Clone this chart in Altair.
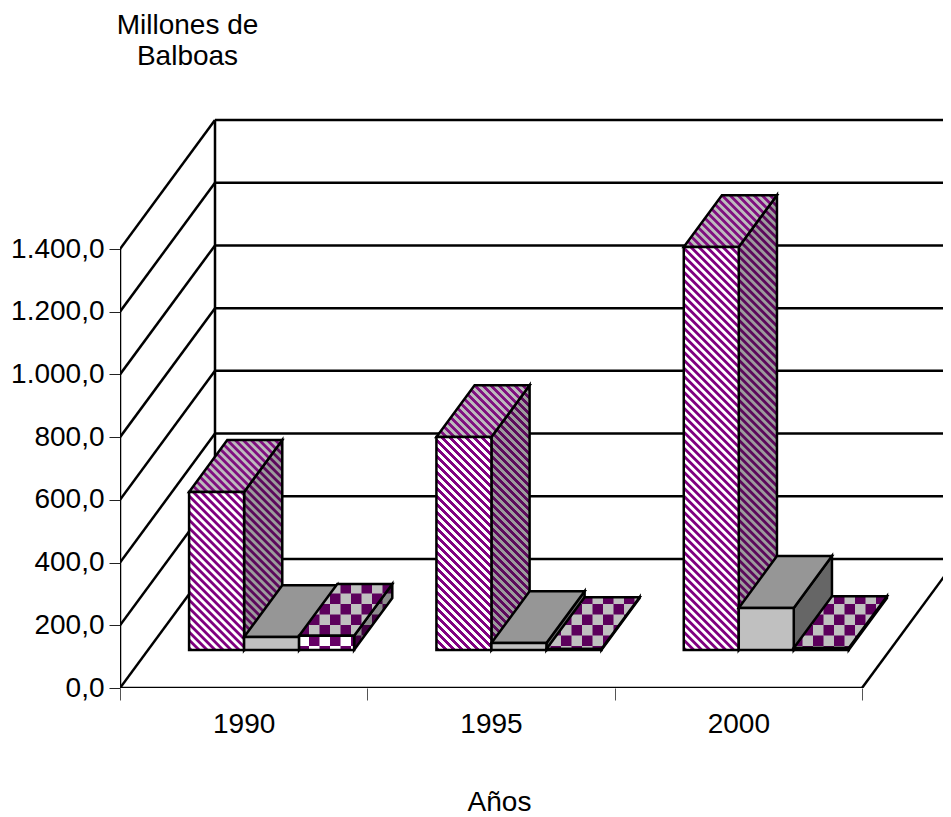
import altair as alt
import pandas as pd

# ---- chart values
YEARS = ["1990", "1995", "2000"]
SERIES_A = [504, 679, 1285]
SERIES_B = [41, 22, 134]
SERIES_C = [45, 3, 6]
Y_TICKS = [0, 200, 400, 600, 800, 1000, 1200, 1400]
FONT = "Liberation Sans"
FS = 28
LW = 2.5

# ---- projection of the 3-D box onto the two linear scales
W, H = 823, 572
XS = 742 / 3           # px per category
YS = 439 / 1400        # px per value unit
DX, DY = 95 / XS, 129 / YS   # full depth of the floor in scale units
D0, D1 = 0.295, 0.697  # front / back of the bars in depth
BAR_X0, BAR_W = 0.166, 0.2224

x_scale = alt.Scale(domain=[0, W / XS], nice=False, zero=False)
y_scale = alt.Scale(domain=[0, H / YS], nice=False, zero=False)


def stripes(w, h, c1, c2, period=8.0, ramp=1.0):
    """diagonal hatch as a repeating soft-edged linear gradient"""
    total = w + h
    n = int(total / period) + 1
    stops = []
    for i in range(n):
        p0 = i * period
        for pos, col in ((p0 + ramp / 2, c1), (p0 + period / 2 - ramp / 2, c1),
                         (p0 + period / 2 + ramp / 2, c2), (p0 + period - ramp / 2, c2)):
            if pos / total <= 1:
                stops.append({"offset": pos / total, "color": col})
    k = total / (w * w + h * h)
    return {"gradient": "linear", "x1": 0, "y1": 1, "x2": k * w, "y2": 1 - k * h, "stops": stops}


def spans(poly, cell=0):
    ys = sorted({round(p[1], 5) for p in poly})
    rows = []
    for y in ys:
        xs = []
        for (xa, ya), (xb, yb) in zip(poly, poly[1:] + poly[:1]):
            lo, hi = min(ya, yb), max(ya, yb)
            if lo - 1e-4 <= y <= hi + 1e-4:
                if abs(yb - ya) < 1e-6:
                    xs += [xa, xb]
                else:
                    xs.append(xa + (y - ya) / (yb - ya) * (xb - xa))
        rows.append({"y": y, "x": min(xs), "x2": max(xs), "cell": cell})
    return rows


def poly_layer(poly, fill, stroke="black", sw=LW):
    df = pd.DataFrame(spans(poly))
    return alt.Chart(df).mark_area(orient="horizontal", fill=fill, stroke=stroke, strokeWidth=sw,
                                   strokeJoin="miter", clip=True).encode(
        y=alt.Y("y:Q", scale=y_scale, axis=None),
        x=alt.X("x:Q", scale=x_scale, axis=None),
        x2="x2:Q")


def clip_rect(poly, x0, x1, y0, y1):
    def clip(pts, inside, cross):
        out = []
        for a, b in zip(pts, pts[1:] + pts[:1]):
            if inside(a):
                out.append(a)
                if not inside(b):
                    out.append(cross(a, b))
            elif inside(b):
                out.append(cross(a, b))
        return out

    def at_x(v):
        return lambda a, b: (v, a[1] + (v - a[0]) / (b[0] - a[0]) * (b[1] - a[1]))

    def at_y(v):
        return lambda a, b: (a[0] + (v - a[1]) / (b[1] - a[1]) * (b[0] - a[0]), v)

    pts = poly
    for ins, cr in ((lambda p: p[0] >= x0, at_x(x0)), (lambda p: p[0] <= x1, at_x(x1)),
                    (lambda p: p[1] >= y0, at_y(y0)), (lambda p: p[1] <= y1, at_y(y1))):
        if not pts:
            return []
        pts = clip(pts, ins, cr)
    return pts


def checker_layers(poly, c_base, c_dark, size=10.5):
    layers = [alt.Chart(pd.DataFrame(spans(poly))).mark_area(orient="horizontal", fill=c_base).encode(
        y=alt.Y("y:Q", scale=y_scale, axis=None),
        x=alt.X("x:Q", scale=x_scale, axis=None), x2="x2:Q")]
    sx, sy = size / XS, size / YS
    xs_, ys_ = [p[0] for p in poly], [p[1] for p in poly]
    rows, cid = [], 0
    for i in range(int(min(xs_) / sx) - 1, int(max(xs_) / sx) + 2):
        for j in range(int(min(ys_) / sy) - 1, int(max(ys_) / sy) + 2):
            if (i + j) % 2:
                continue
            c = clip_rect(poly, i * sx, (i + 1) * sx, j * sy, (j + 1) * sy)
            if len(c) >= 3 and max(p[1] for p in c) - min(p[1] for p in c) > 1e-6:
                rows += spans(c, cid)
                cid += 1
    if rows:
        layers.append(alt.Chart(pd.DataFrame(rows)).mark_area(orient="horizontal", fill=c_dark).encode(
            y=alt.Y("y:Q", scale=y_scale, axis=None),
            x=alt.X("x:Q", scale=x_scale, axis=None), x2="x2:Q", detail="cell:N"))
    layers.append(poly_layer(poly, "transparent"))
    return layers


def faces(c, s, v):
    xl = c + BAR_X0 + s * BAR_W
    xr = xl + BAR_W
    a0, a1 = D0 * DX, D1 * DX
    b0, b1 = D0 * DY, D1 * DY
    front = [(xl + a0, b0), (xr + a0, b0), (xr + a0, v + b0), (xl + a0, v + b0)]
    top = [(xl + a0, v + b0), (xr + a0, v + b0), (xr + a1, v + b1), (xl + a1, v + b1)]
    side = [(xr + a0, b0), (xr + a1, b1), (xr + a1, v + b1), (xr + a0, v + b0)]
    return front, top, side


# ---- frame: walls, floor, grid
frame_rows = []
for v in Y_TICKS:
    frame_rows.append({"x": 0, "x2": DX, "y": v, "y2": v + DY})
    frame_rows.append({"x": DX, "x2": 3 + DX, "y": v + DY, "y2": v + DY})
top_back = Y_TICKS[-1]
frame_rows.append({"x": 0, "x2": 0, "y": 0, "y2": top_back})
frame_rows.append({"x": DX, "x2": DX, "y": DY, "y2": top_back + DY})
frame_rows.append({"x": 0, "x2": 3, "y": 0, "y2": 0})
frame_rows.append({"x": 3, "x2": 3 + DX, "y": 0, "y2": DY})

label_expr = "replace(replace(replace(format(datum.value,',.1f'),',','_'),'.',','),'_','.')"
year_expr = "".join(f"datum.value=={i + .5}?'{y}':" for i, y in enumerate(YEARS)) + "''"

frame = alt.Chart(pd.DataFrame(frame_rows)).mark_rule(color="black", strokeWidth=LW, clip=True).encode(
    x=alt.X("x:Q", scale=x_scale, axis=alt.Axis(
        values=[0, .5, 1, 1.5, 2, 2.5, 3], grid=False, domain=False,
        tickSize=12, tickColor="#555555", tickWidth=1,
        tickOpacity={"condition": {"test": "datum.value % 1 != 0", "value": 0}, "value": 1},
        labelExpr=year_expr, labelFont=FONT, labelFontSize=FS, labelColor="black",
        labelPadding=10, labelFlush=False, labelOverlap=False, labelBound=False,
        title="Años", titleFont=FONT, titleFontSize=FS, titleFontWeight="normal", titleColor="black",
        titleX=379, titleY=122, titleAlign="center", titleBaseline="alphabetic")),
    x2="x2:Q",
    y=alt.Y("y:Q", scale=y_scale, axis=alt.Axis(
        values=Y_TICKS, grid=False, domain=False,
        tickSize=11, tickColor="#222222", tickWidth=1,
        labelExpr=label_expr, labelFont=FONT, labelFontSize=FS, labelColor="black",
        labelPadding=5, labelOverlap=False, labelBound=False, labelFlush=False,
        title=["Millones de", "Balboas"], titleFont=FONT, titleFontSize=FS, titleFontWeight="normal",
        titleColor="black", titleAngle=0, titleX=67, titleY=-83, titleAlign="center",
        titleBaseline="alphabetic", titleLineHeight=31)),
    y2="y2:Q")

layers = [frame]

for c in range(len(YEARS)):
    # striped series
    v = SERIES_A[c]
    front, top, side = faces(c, 0, v)
    bw, bh = BAR_W * XS, v * YS
    dw, dh = (D1 - D0) * DX * XS, (D1 - D0) * DY * YS
    layers.append(poly_layer(side, stripes(dw, bh + dh, "#5c0a5c", "#9c9c9c")))
    layers.append(poly_layer(top, stripes(bw + dw, dh, "#800f80", "#bcbcbc")))
    layers.append(poly_layer(front, stripes(bw, bh, "#800080", "#ffffff")))
    # plain grey series
    v = SERIES_B[c]
    front, top, side = faces(c, 1, v)
    layers.append(poly_layer(side, "#666666"))
    layers.append(poly_layer(top, "#969696"))
    layers.append(poly_layer(front, "#c0c0c0"))
    # checkered series
    v = SERIES_C[c]
    front, top, side = faces(c, 2, v)
    layers += checker_layers(side, "#8c8c8c", "#3f003f")
    layers += checker_layers(top, "#c0c0c0", "#5c005c")
    layers += checker_layers(front, "#ffffff", "#660066")

chart = alt.layer(*layers).resolve_axis(x="independent", y="independent").properties(
    width=W, height=H,
    autosize=alt.AutoSizeParams(type="none"),
    padding={"left": 112, "top": 108, "right": 0, "bottom": 129},
).configure_view(stroke=None)

chart.save("out.html", embed_options={"renderer": "svg", "actions": False})
